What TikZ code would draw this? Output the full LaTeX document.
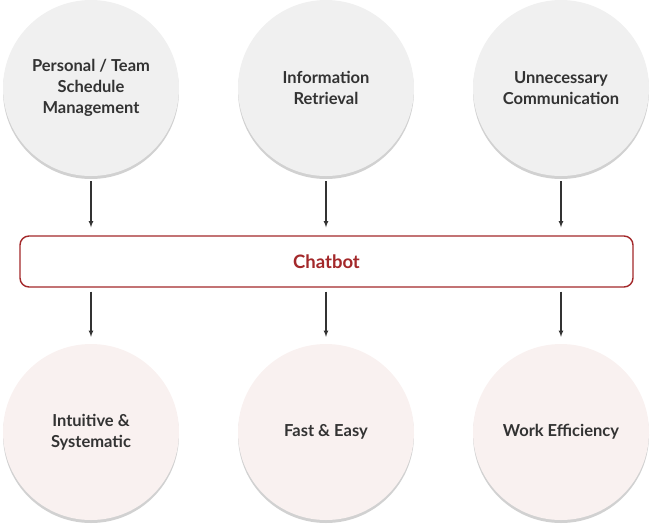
\documentclass[tikz,border=0pt]{standalone}
\usepackage{fontspec}
\setmainfont{Lato}
\usetikzlibrary{shadows}
\definecolor{topfill}{HTML}{F0F0F0}
\definecolor{botfill}{HTML}{F9F1F0}
\definecolor{botred}{HTML}{A3282A}
\definecolor{txtgray}{HTML}{333333}
\tikzset{
  bubble/.style={circle, minimum size=176pt, inner sep=0pt, align=center,
    font=\fontsize{16.5}{21}\selectfont\bfseries, text=txtgray,
    drop shadow={shadow xshift=0pt, shadow yshift=-3pt, opacity=0.18, fill=black}},
  topbubble/.style={bubble, fill=topfill},
  botbubble/.style={bubble, fill=botfill},
  flow/.style={-latex, line width=1.1pt, draw=txtgray}
}
\begin{document}
\begin{tikzpicture}[x=1pt, y=-1pt]
				\useasboundingbox (0, 0) rectangle (653, 528);
				% Top circles
				\node[topbubble] (team) at (91, 88) {Personal / Team\\Schedule\\Management};
				\node[topbubble] (info) at (326, 88) {Information\\Retrieval};
				\node[topbubble] (comm) at (561, 88) {Unnecessary\\Communication};
				
				% Chatbot box
				\node[draw=botred, line width=1.4pt, rounded corners=9pt, fill=white,
				  minimum width=613pt, minimum height=51pt, text=botred,
				  font=\fontsize{18.5}{20}\selectfont\bfseries] (bot) at (326.5, 261.5) {Chatbot};
				
				% Bottom circles
				\node[botbubble] (intu) at (91, 432) {Intuitive \&\\Systematic};
				\node[botbubble] (fast) at (326, 432) {Fast \& Easy};
				\node[botbubble] (work) at (561, 432) {Work Efficiency};
				
				% Arrows into the box
				\foreach \src in {team, info, comm}
				  \draw[flow, shorten <=5pt, shorten >=8pt] (\src.south) -- (\src.south |- bot.north);
				% Arrows out of the box
				\foreach \dst in {intu, fast, work}
				  \draw[flow, shorten <=4pt, shorten >=7pt] (\dst.north |- bot.south) -- (\dst.north);
\end{tikzpicture}
\end{document}
